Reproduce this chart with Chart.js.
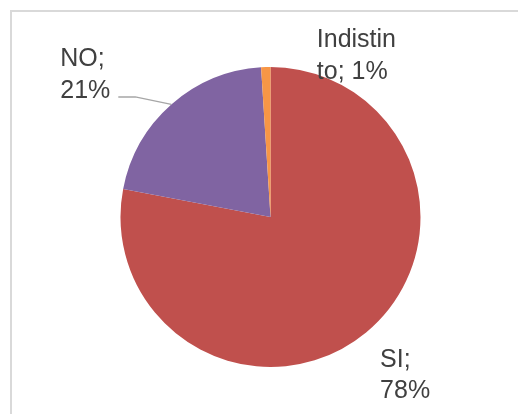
<!DOCTYPE html>
<html>
<head>
<meta charset="utf-8">
<script src="https://cdn.jsdelivr.net/npm/chart.js@4"></script>
<style>
  body { margin: 0; background: #fff; }
  #wrap { position: relative; width: 518px; height: 414px; overflow: hidden; }
  #frame { position: absolute; left: 10px; top: 10px; width: 700px; height: 600px;
           border-left: 2px solid #d9d9d9; border-top: 2px solid #d9d9d9; }
  canvas { position: absolute; left: 0; top: 0; }
</style>
</head>
<body>
<div id="wrap">
  <div id="frame"></div>
  <canvas id="myChart" width="518" height="414"></canvas>
</div>
<script>
const categories = ["SI", "NO", "Indistinto"];
const values = [78, 21, 1];
const colors = ["#C0504D", "#8064A2", "#F79646"];
// how each label gets wrapped in the picture
const labelLines = [
  ["SI;", "78%"],
  ["NO;", "21%"],
  ["Indistin", "to; 1%"],
];

const total = values.reduce((a, b) => a + b, 0);

// label placement, offset from the outer edge point of each slice
const labelOffsets = [
  { dx: 14, dy: 34 },
  { dx: -111, dy: -38 },
  { dx: 51, dy: -20 },
];

const pieLabels = {
  id: "pieLabels",
  afterDatasetsDraw(chart) {
    const c = chart.ctx;
    const meta = chart.getDatasetMeta(0);
    c.save();
    c.font = "25px 'Liberation Sans', Arial, sans-serif";
    c.fillStyle = "#404040";
    c.textBaseline = "alphabetic";
    const lineH = 31.5;
    meta.data.forEach((arc, i) => {
      const p = arc.getProps(["x", "y", "startAngle", "endAngle", "outerRadius"], true);
      const mid = (p.startAngle + p.endAngle) / 2;
      const ex = p.x + Math.cos(mid) * p.outerRadius;
      const ey = p.y + Math.sin(mid) * p.outerRadius;
      const lx = ex + labelOffsets[i].dx;
      const ly = ey + labelOffsets[i].dy;
      labelLines[i].forEach((t, j) => c.fillText(t, lx, ly + j * lineH));
      if (categories[i] === "NO") {
        // leader line
        c.strokeStyle = "#A6A6A6";
        c.lineWidth = 1.3;
        c.beginPath();
        c.moveTo(ex, ey);
        c.lineTo(lx + 75, ly + lineH - 1);
        c.lineTo(lx + 58, ly + lineH - 1);
        c.stroke();
      }
    });
    c.restore();
  },
};

const ctx = document.getElementById("myChart");
const chart = new Chart(ctx, {
  type: "pie",
  data: {
    labels: categories,
    datasets: [
      {
        data: values.map((v) => (v / total) * 100),
        backgroundColor: colors,
        borderWidth: 0,
      },
    ],
  },
  options: {
    responsive: false,
    animation: false,
    layout: {
      padding: { left: 120, right: 97, top: 67, bottom: 47 },
    },
    plugins: {
      legend: { display: false },
      tooltip: { enabled: false },
    },
  },
  plugins: [pieLabels],
});
</script>
</body>
</html>
